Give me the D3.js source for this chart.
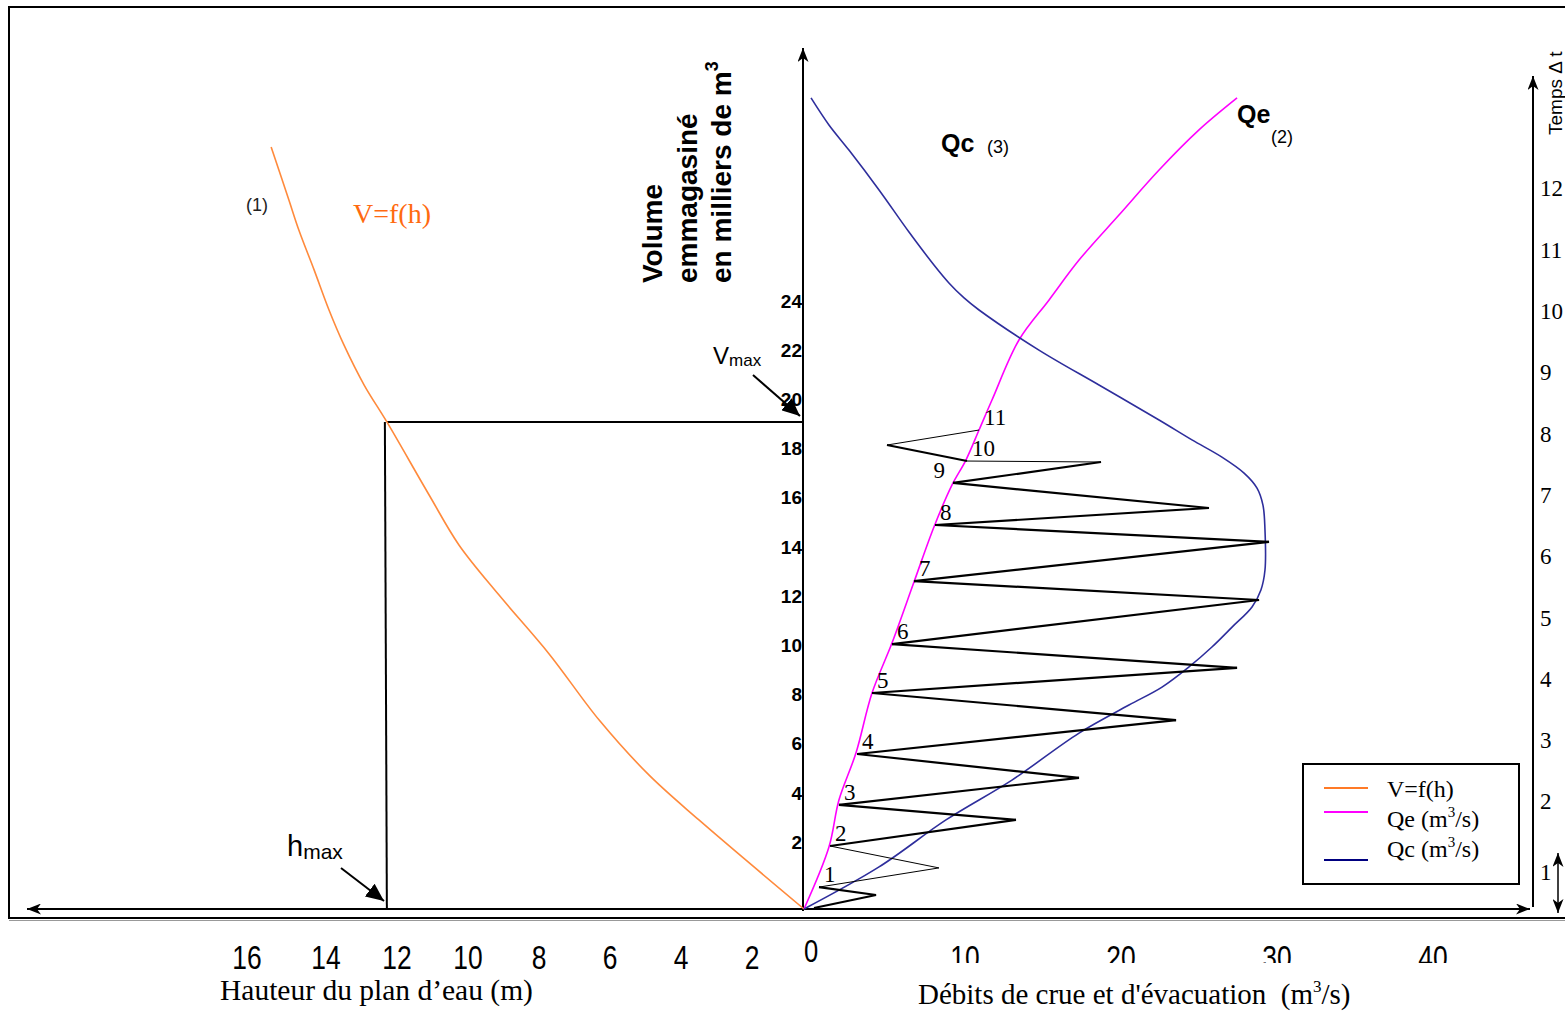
<!DOCTYPE html>
<html>
<head>
<meta charset="utf-8">
<script src="https://cdn.jsdelivr.net/npm/d3@7"></script>
<style>
body { margin: 0; background: #fff; }
svg { display: block; }
</style>
</head>
<body>
<svg></svg>
<script>
// ---- data ----
const hTicks = [16, 14, 12, 10, 8, 6, 4, 2];          // hauteur (m), left axis
const qTicks = [0, 10, 20, 30, 40];                    // débits (m3/s), right axis
const vTicks = [2, 4, 6, 8, 10, 12, 14, 16, 18, 20, 22, 24]; // volume (milliers m3)
const tTicks = [1, 2, 3, 4, 5, 6, 7, 8, 9, 10, 11, 12];      // pas de temps

// V = f(h) : [h, V]
const curveVh = [[0, 0], [2.96, 3.62], [4.37, 5.45], [5.77, 7.68], [7.18, 10.37], [8.59, 12.76],
  [9.72, 14.8], [10.56, 16.83], [11.75, 19.8], [12.39, 21.3], [12.96, 22.93], [13.38, 24.35],
  [13.8, 25.98], [14.23, 27.6], [14.51, 28.82], [15.01, 30.98]];

// Qe : [Q, V]
const curveQe = [[0, 0], [1.6, 2.52], [2.24, 4.43], [3.33, 6.34], [4.36, 8.78], [5.64, 10.81],
  [7.05, 13.29], [8.33, 15.53], [9.49, 17.24], [10.38, 18.25], [11.22, 19.47], [12.05, 20.69],
  [13.78, 23.13], [15.71, 24.76], [17.63, 26.38], [20.19, 28.21], [22.76, 30.04], [25.32, 31.67],
  [27.76, 32.97]];

// Qc : [Q, V]
const curveQc = [[0, 0], [4.81, 1.71], [9.1, 3.62], [13.33, 5.24], [17.63, 7.15], [20.83, 8.29],
  [22.95, 9.02], [24.68, 9.84], [26.15, 10.65], [27.44, 11.46], [28.72, 12.28], [29.29, 12.97],
  [29.55, 13.78], [29.55, 15.41], [29.42, 16.42], [29.04, 17.11], [28.21, 17.72], [26.79, 18.37],
  [24.87, 19.07], [22.76, 19.88], [18.91, 21.3], [15.06, 22.72], [11.22, 24.35], [10.26, 24.84],
  [9.29, 25.45], [8.33, 26.18], [6.73, 27.52], [4.81, 29.23], [2.88, 30.85], [1.6, 31.87],
  [0.45, 32.97]];

// step-by-step construction : left point on Qe, peak, next left point ...
const zigzag = [[0.64, 0.04], [4.62, 0.57], [0.96, 0.89], [8.65, 1.67], [1.67, 2.56],
  [13.59, 3.62], [2.24, 4.23], [17.63, 5.33], [3.4, 6.3], [23.85, 7.68], [4.36, 8.78],
  [27.76, 9.8], [5.64, 10.77], [29.17, 12.56], [7.05, 13.33], [29.81, 14.92], [8.4, 15.61],
  [25.96, 16.3], [9.55, 17.32], [19.04, 18.17], [10.45, 18.21], [5.32, 18.86], [11.22, 19.47]];
const thinSegments = [2, 3, 19, 21];   // segment index (start point) drawn with a thin pen
const stepLabels = ["1", "2", "3", "4", "5", "6", "7", "8", "9", "10", "11"];

const hMax = 11.75;
const vMax = 19.8;

const legendItems = ["V=f(h)", "Qe", "Qc"];
const colors = { vh: "#ff8a3c", qe: "#ff00ff", qc: "#2e2e9c" };

// ---- layout ----
const width = 1565, height = 1012;
const svg = d3.select("svg").attr("width", width).attr("height", height)
  .style("font-family", "'Liberation Sans', Arial, sans-serif");

const ox = 804, oy = 909;
const xH = d3.scaleLinear().domain([0, 16]).range([ox, ox - 16 * 35.5]);
const xQ = d3.scaleLinear().domain([0, 40]).range([ox, ox + 40 * 15.6]);
const yV = d3.scaleLinear().domain([0, 30]).range([oy, oy - 30 * 24.6]);
const yT = d3.scaleLinear().domain([0, 12]).range([924, 924 - 12 * 61.3]);

const defs = svg.append("defs");
function marker(id, w, h, notch) {
  defs.append("marker").attr("id", id)
    .attr("viewBox", `0 ${-h} ${w} ${2 * h}`)
    .attr("refX", w).attr("refY", 0)
    .attr("markerWidth", w).attr("markerHeight", 2 * h)
    .attr("markerUnits", "userSpaceOnUse")
    .attr("orient", "auto-start-reverse")
    .append("path").attr("d", `M0,${-h}L${w},0L0,${h}L${notch},0Z`).attr("fill", "#000");
}
marker("arr", 14, 5.5, 4);
marker("arrBig", 18, 8, 0);

defs.append("clipPath").attr("id", "cutLabels")
  .append("rect").attr("x", 0).attr("y", 0).attr("width", width).attr("height", 963);

// outer frame
svg.append("rect").attr("x", 9).attr("y", 7).attr("width", 1600).attr("height", 911)
  .attr("fill", "none").attr("stroke", "#000").attr("stroke-width", 2);
svg.append("line").attr("x1", 9).attr("x2", width).attr("y1", 920.5).attr("y2", 920.5)
  .attr("stroke", "#999").attr("stroke-width", 1);

// axes
svg.append("line").attr("x1", 1529).attr("x2", 27).attr("y1", oy).attr("y2", oy)
  .attr("stroke", "#000").attr("stroke-width", 2).attr("marker-end", "url(#arr)");
svg.append("line").attr("x1", 1529).attr("x2", 1530).attr("y1", oy).attr("y2", oy)
  .attr("stroke", "#000").attr("stroke-width", 2).attr("marker-end", "url(#arr)");
svg.append("line").attr("x1", ox - 1).attr("x2", ox - 1).attr("y1", oy + 2).attr("y2", 48)
  .attr("stroke", "#000").attr("stroke-width", 2).attr("marker-end", "url(#arr)");
svg.append("line").attr("x1", 1533).attr("x2", 1533).attr("y1", oy - 2).attr("y2", 76)
  .attr("stroke", "#000").attr("stroke-width", 2).attr("marker-end", "url(#arr)");

// double arrow (delta t)
svg.append("line").attr("x1", 1558).attr("x2", 1558).attr("y1", yT(1.16)).attr("y2", yT(0.18))
  .attr("stroke", "#000").attr("stroke-width", 1.5)
  .attr("marker-start", "url(#arr)").attr("marker-end", "url(#arr)");

// h tick labels
svg.append("g").selectAll("text").data(hTicks).join("text")
  .attr("transform", d => `translate(${xH(d) + 19 - (d === 16 ? 8 : 0)},969) scale(0.8,1)`)
  .attr("text-anchor", "middle").attr("font-size", 33).text(d => d);

// Q tick labels (bottom cut off as in the original)
const qLab = svg.append("g");
qLab.append("text")
  .attr("transform", `translate(${xQ(0) + 7},962) scale(0.8,1)`)
  .attr("text-anchor", "middle").attr("font-size", 32).text(qTicks[0]);
qLab.append("g").attr("clip-path", "url(#cutLabels)")
  .selectAll("text").data(qTicks.slice(1)).join("text")
  .attr("transform", d => `translate(${xQ(d) + 5},969) scale(0.8,1)`)
  .attr("text-anchor", "middle").attr("font-size", 33).text(d => d);

// volume tick labels
svg.append("g").selectAll("text").data(vTicks).join("text")
  .attr("x", ox - 2).attr("y", d => yV(d) - 11)
  .attr("text-anchor", "end").attr("font-size", 19).attr("font-weight", "bold").text(d => d);

// time tick labels
svg.append("g").selectAll("text").data(tTicks).join("text")
  .attr("x", 1540).attr("y", d => yT(d) + (d === 1 ? 17 : 8))
  .attr("font-family", "'Liberation Serif', 'Times New Roman', serif")
  .attr("font-size", 23).text(d => d);

svg.append("text").attr("transform", "translate(1562,135) rotate(-90)")
  .attr("font-size", 19).text("Temps Δ t");

// volume axis title
const vt = svg.append("g").attr("font-size", 28).attr("font-weight", "bold");
vt.append("text").attr("transform", "translate(662,283) rotate(-90)").text("Volume");
vt.append("text").attr("transform", "translate(697,283) rotate(-90)").text("emmagasiné");
const vt3 = vt.append("text").attr("transform", "translate(731,283) rotate(-90)").text("en milliers de m");
vt3.append("tspan").attr("font-size", 18).attr("dy", -13).text("3");

// axis titles
const serif = "'Liberation Serif', 'Times New Roman', serif";
svg.append("text").attr("x", 220).attr("y", 1000).attr("font-family", serif)
  .attr("font-size", 29.5).text("Hauteur du plan d’eau (m)");
const qt = svg.append("text").attr("x", 918).attr("y", 1004).attr("font-family", serif)
  .attr("font-size", 29).style("white-space", "pre");
qt.append("tspan").text("Débits de crue et d'évacuation  (m");
qt.append("tspan").attr("font-size", 17).attr("dy", -12).text("3");
qt.append("tspan").attr("dy", 12).text("/s)");

// construction lines for hmax / Vmax
svg.append("line").attr("x1", xH(hMax)).attr("x2", ox - 1).attr("y1", yV(vMax)).attr("y2", yV(vMax))
  .attr("stroke", "#000").attr("stroke-width", 2);
svg.append("line").attr("x1", xH(hMax) - 2).attr("x2", xH(hMax)).attr("y1", yV(vMax)).attr("y2", oy)
  .attr("stroke", "#000").attr("stroke-width", 2);

// curves
const lineH = d3.line().x(d => xH(d[0])).y(d => yV(d[1])).curve(d3.curveCatmullRom.alpha(0.5));
const lineQ = d3.line().x(d => xQ(d[0])).y(d => yV(d[1])).curve(d3.curveCatmullRom.alpha(0.5));
svg.append("path").attr("d", lineH(curveVh)).attr("fill", "none")
  .attr("stroke", colors.vh).attr("stroke-width", 1.6);
svg.append("path").attr("d", lineQ(curveQe)).attr("fill", "none")
  .attr("stroke", colors.qe).attr("stroke-width", 1.6);
svg.append("path").attr("d", lineQ(curveQc)).attr("fill", "none")
  .attr("stroke", colors.qc).attr("stroke-width", 1.6);

// zigzag
svg.append("g").selectAll("line").data(d3.pairs(zigzag)).join("line")
  .attr("x1", d => xQ(d[0][0])).attr("y1", d => yV(d[0][1]))
  .attr("x2", d => xQ(d[1][0])).attr("y2", d => yV(d[1][1]))
  .attr("stroke", "#000")
  .attr("stroke-width", (d, i) => thinSegments.includes(i) ? 1 : 2.2);

// step numbers at the left points
svg.append("g").selectAll("text").data(stepLabels).join("text")
  .attr("x", (d, i) => xQ(zigzag[2 * (i + 1)][0]) + (d === "9" ? -8 : 5))
  .attr("y", (d, i) => yV(zigzag[2 * (i + 1)][1]) - 5)
  .attr("text-anchor", d => d === "9" ? "end" : "start")
  .attr("font-family", serif).attr("font-size", 23).text(d => d);

// annotations
svg.append("text").attr("x", 246).attr("y", 211).attr("font-size", 18).attr("fill", "#222").text("(1)");
svg.append("text").attr("x", 353).attr("y", 223).attr("font-family", serif)
  .attr("font-size", 28).attr("fill", "#ff6a10").text("V=f(h)");
svg.append("text").attr("x", 941).attr("y", 152).attr("font-size", 25).attr("font-weight", "bold").text("Qc");
svg.append("text").attr("x", 987).attr("y", 153).attr("font-size", 18).text("(3)");
svg.append("text").attr("x", 1237).attr("y", 123).attr("font-size", 25).attr("font-weight", "bold").text("Qe");
svg.append("text").attr("x", 1271).attr("y", 143).attr("font-size", 18).text("(2)");

const vm = svg.append("text").attr("x", 713).attr("y", 364).attr("font-size", 24);
vm.append("tspan").text("V");
vm.append("tspan").attr("font-size", 17).attr("dy", 2).text("max");
svg.append("line").attr("x1", 753).attr("y1", 375).attr("x2", 800).attr("y2", 416)
  .attr("stroke", "#000").attr("stroke-width", 2).attr("marker-end", "url(#arrBig)");

const hm = svg.append("text").attr("x", 287).attr("y", 856).attr("font-size", 29);
hm.append("tspan").text("h");
hm.append("tspan").attr("font-size", 21).attr("dy", 3).text("max");
svg.append("line").attr("x1", 341).attr("y1", 868).attr("x2", 384).attr("y2", 901)
  .attr("stroke", "#000").attr("stroke-width", 2).attr("marker-end", "url(#arrBig)");

// legend
const lg = svg.append("g").attr("transform", "translate(1303,764)");
lg.append("rect").attr("width", 216).attr("height", 120).attr("fill", "#fff")
  .attr("stroke", "#000").attr("stroke-width", 2);
const lgColors = ["#ff7a26", colors.qe, "#000080"];
const lgLineY = [24, 48, 96];
const lgTextY = [33, 63, 93];
lg.selectAll("line").data(legendItems).join("line")
  .attr("x1", 21).attr("x2", 65).attr("y1", (d, i) => lgLineY[i]).attr("y2", (d, i) => lgLineY[i])
  .attr("stroke", (d, i) => lgColors[i]).attr("stroke-width", 2);
lg.selectAll("text").data(legendItems).join("text")
  .attr("x", 84).attr("y", (d, i) => lgTextY[i])
  .attr("font-family", serif).attr("font-size", 24)
  .each(function (d, i) {
    const t = d3.select(this);
    if (i === 0) { t.text(d); return; }
    t.append("tspan").text(d + " (m");
    t.append("tspan").attr("font-size", 15).attr("dy", -10).text("3");
    t.append("tspan").attr("dy", 10).text("/s)");
  });
</script>
</body>
</html>
